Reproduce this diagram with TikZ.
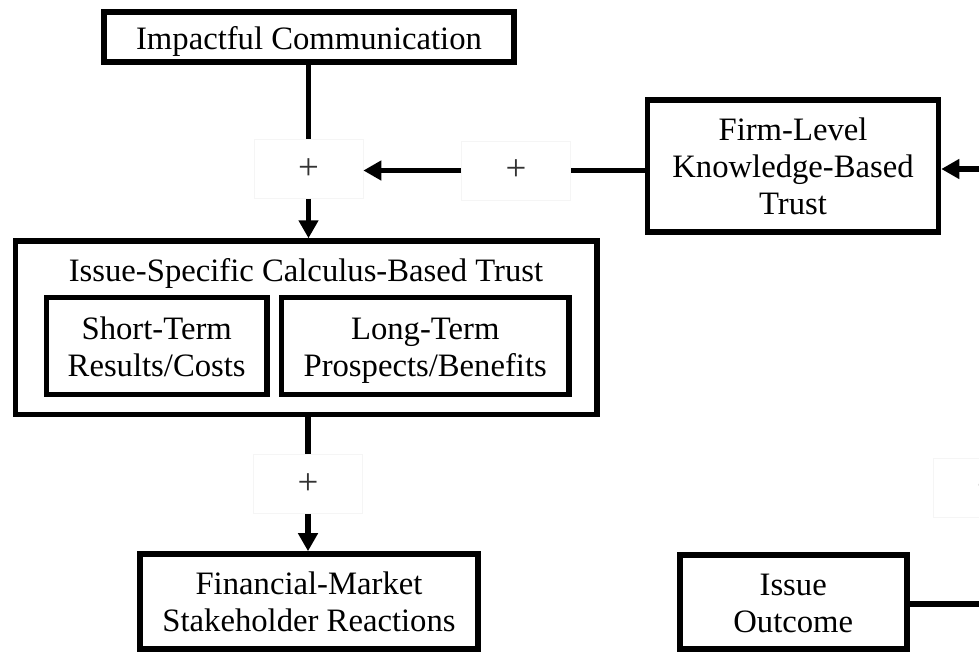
\documentclass[tikz,border=0pt]{standalone}
\usepackage{fontspec}
\setmainfont{Liberation Serif}
\usepackage{tikz}
\usetikzlibrary{arrows.meta}
\newcommand{\topgap}{\rule{0pt}{19.5pt}}

\begin{document}
\begin{tikzpicture}[x=0.02cm,y=-0.02cm,
        every node/.style={font=\fontsize{18.6}{21}\selectfont, align=center},
        box/.style={draw, line width=3.2pt, inner sep=0pt},
        plusbox/.style={draw=black!4, line width=0.4pt, fill=white, text=black!80,
            font=\fontsize{21}{21}\selectfont,
            minimum width=2.18cm, minimum height=1.18cm},
        link/.style={line width=3.2pt},
        arr/.style={link, -{Triangle[length=0.36cm, width=0.38cm]}}]
                \useasboundingbox (0,0) rectangle (979,653);
                % boxes
                \node[box, minimum width=8.2cm, minimum height=1cm, text height=14pt, text depth=0pt] (comm) at (309,37) {Impactful Communication};
                \node[box, minimum width=5.82cm, minimum height=2.64cm] (firm) at (793,165.7) {\topgap Firm-Level\\Knowledge-Based\\Trust\strut};
                \node[box, minimum width=11.63cm, minimum height=3.47cm] (calc) at (306.3,327.8) {};
                \node (calctitle) at (306,273) {Issue-Specific Calculus-Based Trust};
                \node[box, minimum width=4.41cm, minimum height=1.94cm] (short) at (156.7,346) {\topgap Short-Term\\Results/Costs\strut};
                \node[box, minimum width=5.75cm, minimum height=1.94cm] (long) at (425.2,346) {\topgap Long-Term\\Prospects/Benefits\strut};
                \node[box, minimum width=6.76cm, minimum height=1.9cm] (fin) at (309,601.5) {\topgap Financial-Market\\Stakeholder Reactions\strut};
                \node[box, minimum width=4.54cm, minimum height=1.88cm] (outcome) at (793.2,602) {\topgap Issue\\Outcome\strut};
                % signs
                \node[plusbox] (plusA) at (308.5,169) {+};
                \node[plusbox] (plusB) at (516,170.5) {+};
                \node[plusbox] (plusC) at (308,484) {+};
                \node[plusbox] (plusD) at (987.5,487.5) {+};
                \coordinate (inR) at (1000,169);
                \coordinate (outR) at (1000,603.7);
                % links
                \draw[link] (comm.south -| plusA) -- (plusA.north);
                \draw[arr] (plusA.south) -- (calc.north -| plusA);
                \draw[link] (plusB.east -| firm.west) -- (plusB.east);
                \draw[arr] (plusB.west) -- (plusB.west -| plusA.east);
                \draw[arr] (inR) -- (firm.east |- inR);
                \draw[link] (calc.south -| plusC) -- (plusC.north);
                \draw[arr] (plusC.south) -- (fin.north -| plusC);
                \draw[link] (outcome.east |- outR) -- (outR);
            \end{tikzpicture}
\end{document}
